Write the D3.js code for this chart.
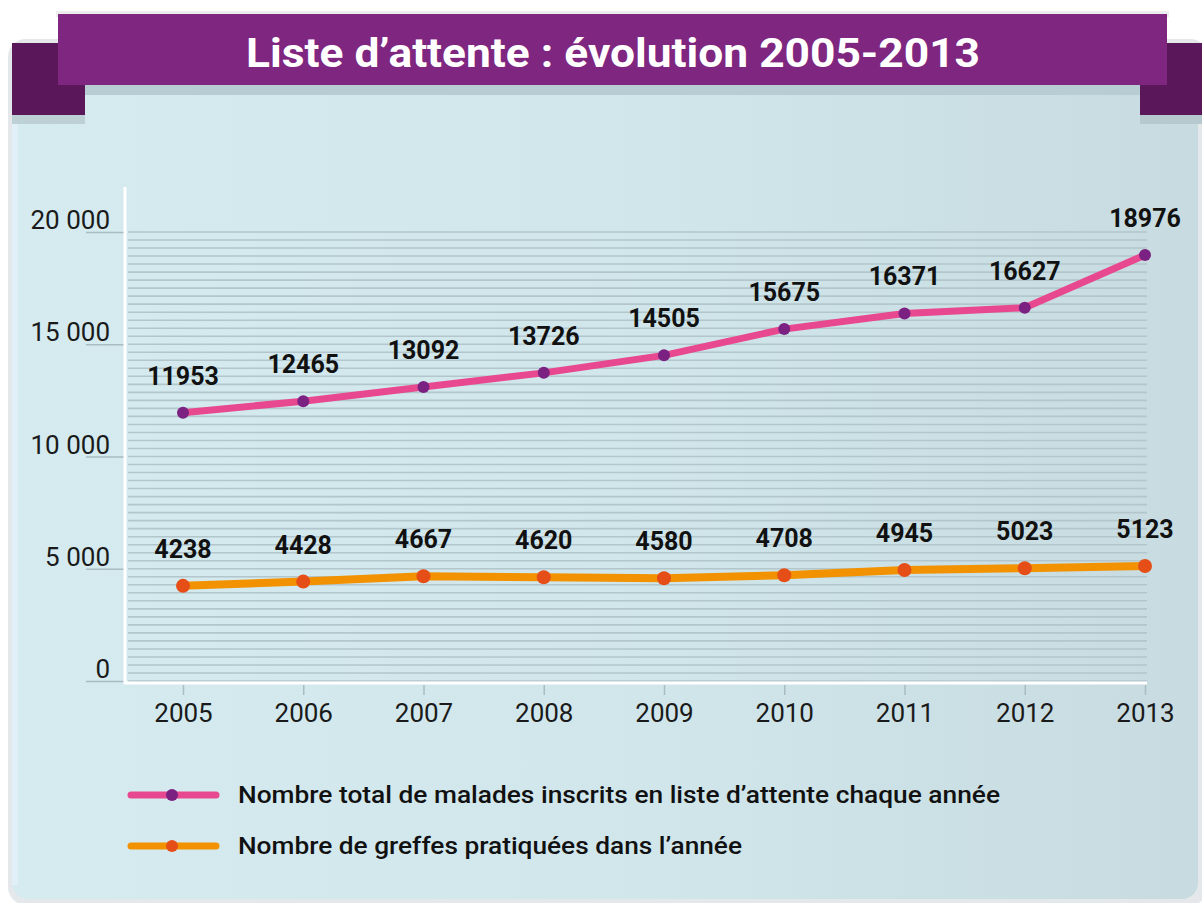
<!DOCTYPE html>
<meta charset="utf-8">
<head>
    <title>Liste d'attente</title>
    <style>
        body { margin: 0; background: #fff; }
    </style>
</head>

<script src="https://d3js.org/d3.v7.min.js"></script>

<div id="dataVis"></div>

<script>

    // data
    var years = ["2005", "2006", "2007", "2008", "2009", "2010", "2011", "2012", "2013"];
    var inscrits = [11953, 12465, 13092, 13726, 14505, 15675, 16371, 16627, 18976];
    var greffes = [4238, 4428, 4667, 4620, 4580, 4708, 4945, 5023, 5123];
    var yTicks = [0, 5000, 10000, 15000, 20000];
    var title = "Liste d\u2019attente : évolution 2005-2013";
    var legendLabels = [
        "Nombre total de malades inscrits en liste d\u2019attente chaque année",
        "Nombre de greffes pratiquées dans l\u2019année"
    ];

    var width = 1202, height = 903;

    var svg = d3.select("#dataVis")
        .append("svg")
        .attr("width", width)
        .attr("height", height);

    // background gradient of the panel
    var defs = svg.append("defs");
    var grad = defs.append("linearGradient").attr("id", "panelGrad")
        .attr("x1", "0%").attr("x2", "100%").attr("y1", "0%").attr("y2", "0%");
    grad.append("stop").attr("offset", "0%").attr("stop-color", "#d5ebf0");
    grad.append("stop").attr("offset", "55%").attr("stop-color", "#d0e6eb");
    grad.append("stop").attr("offset", "100%").attr("stop-color", "#c7dbe0");

    // frame + panel
    svg.append("rect").attr("x", 8).attr("y", 39).attr("width", 1200).attr("height", 866)
        .attr("rx", 18).attr("fill", "#e4e8ea");
    svg.append("rect").attr("x", 12).attr("y", 43).attr("width", 1186).attr("height", 856)
        .attr("rx", 16).attr("fill", "url(#panelGrad)");
    svg.append("rect").attr("x", 12).attr("y", 115).attr("width", 6).attr("height", 770)
        .attr("fill", "#e1f0f8");

    // banner shadows
    svg.append("rect").attr("x", 58).attr("y", 85).attr("width", 1109).attr("height", 10)
        .attr("fill", "#b7cdd3");
    svg.append("rect").attr("x", 12).attr("y", 115).attr("width", 73).attr("height", 9)
        .attr("fill", "#bcd0d5");
    svg.append("rect").attr("x", 1140).attr("y", 115).attr("width", 62).attr("height", 9)
        .attr("fill", "#b5c9ce");

    // dark purple side blocks
    svg.append("rect").attr("x", 12).attr("y", 43).attr("width", 73).attr("height", 72)
        .attr("fill", "#5a1759");
    svg.append("rect").attr("x", 1140).attr("y", 43).attr("width", 62).attr("height", 72)
        .attr("fill", "#5a1759");

    // title banner
    svg.append("rect").attr("x", 56).attr("y", 11).attr("width", 1113).attr("height", 6)
        .attr("fill", "#ededed");
    svg.append("rect").attr("x", 58).attr("y", 14).attr("width", 1109).attr("height", 71)
        .attr("fill", "#7f2680");
    svg.append("text")
        .attr("x", 613).attr("y", 67)
        .attr("text-anchor", "middle")
        .attr("fill", "#fff")
        .style("font-family", "Roboto, sans-serif")
        .style("font-weight", 700)
        .style("font-size", "41px")
        .attr("textLength", 734)
        .attr("lengthAdjust", "spacingAndGlyphs")
        .text(title);

    // scales
    var x = d3.scalePoint()
        .domain(years)
        .range([183, 1145]);

    var y = d3.scaleLinear()
        .domain([0, 20000])
        .range([681, 232]);

    var fr = d3.formatLocale({ decimal: ",", thousands: " ", grouping: [3], currency: ["", " €"] });
    var fmt = fr.format(",");

    // fine horizontal hatching
    var gridVals = d3.range(0, 57).map(function (i) { return i * 5000 / 14; });
    svg.append("g")
        .selectAll("line")
        .data(gridVals)
        .enter()
        .append("line")
        .attr("x1", 128).attr("x2", 1147)
        .attr("y1", function (d) { return y(d); })
        .attr("y2", function (d) { return y(d); })
        .attr("stroke", "#b2c6cb")
        .attr("stroke-width", 1.6);

    // Y axis
    var yAxis = svg.append("g")
        .attr("transform", "translate(125,0)")
        .call(d3.axisLeft(y).tickValues(yTicks).tickSize(39).tickFormat(fmt));
    yAxis.select(".domain").remove();
    yAxis.selectAll(".tick line").attr("stroke", "#a9bcc1").attr("stroke-width", 1.5);
    yAxis.selectAll(".tick text")
        .attr("x", -15)
        .attr("dy", "-0.13em")
        .attr("fill", "#1a1a1a")
        .style("font-family", "Roboto, sans-serif")
        .style("font-weight", 400)
        .style("font-size", "26px");

    // X axis
    var xAxis = svg.append("g")
        .attr("transform", "translate(0,685)")
        .call(d3.axisBottom(x).tickSize(10));
    xAxis.select(".domain").remove();
    xAxis.selectAll(".tick line").attr("stroke", "#a9bcc1").attr("stroke-width", 1.5);
    xAxis.selectAll(".tick text")
        .attr("y", 37)
        .attr("dy", 0)
        .attr("fill", "#1a1a1a")
        .style("font-family", "Roboto, sans-serif")
        .style("font-weight", 400)
        .style("font-size", "26px");

    // white axis lines
    svg.append("line").attr("x1", 125).attr("x2", 125).attr("y1", 187).attr("y2", 684)
        .attr("stroke", "#fff").attr("stroke-width", 3);
    svg.append("line").attr("x1", 124).attr("x2", 1147).attr("y1", 683).attr("y2", 683)
        .attr("stroke", "#fff").attr("stroke-width", 3);

    // series
    var series = [
        { values: inscrits, line: "#e8488f", dot: "#7b2182", w: 7, r: 6 },
        { values: greffes, line: "#f39200", dot: "#e64e17", w: 8, r: 7 }
    ];

    var line = d3.line()
        .x(function (d, i) { return x(years[i]); })
        .y(function (d) { return y(d); });

    series.forEach(function (s) {
        svg.append("path")
            .datum(s.values)
            .attr("fill", "none")
            .attr("stroke", s.line)
            .attr("stroke-width", s.w)
            .attr("stroke-linejoin", "round")
            .attr("d", line);

        svg.append("g")
            .selectAll("circle")
            .data(s.values)
            .enter()
            .append("circle")
            .attr("cx", function (d, i) { return x(years[i]); })
            .attr("cy", function (d) { return y(d); })
            .attr("r", s.r)
            .attr("fill", s.dot);

        svg.append("g")
            .selectAll("text")
            .data(s.values)
            .enter()
            .append("text")
            .attr("x", function (d, i) { return x(years[i]); })
            .attr("y", function (d) { return y(d) - 28; })
            .attr("text-anchor", "middle")
            .attr("fill", "#111")
            .style("font-family", "Roboto, sans-serif")
            .style("font-weight", 700)
            .style("font-size", "25px")
            .text(function (d) { return d; });
    });

    // legend
    var legend = svg.append("g");
    series.forEach(function (s, i) {
        var ly = 795 + i * 51;
        legend.append("line")
            .attr("x1", 131).attr("x2", 216).attr("y1", ly).attr("y2", ly)
            .attr("stroke", s.line).attr("stroke-width", 7).attr("stroke-linecap", "round");
        legend.append("circle")
            .attr("cx", 172).attr("cy", ly).attr("r", 6).attr("fill", s.dot);
        legend.append("text")
            .attr("x", 238).attr("y", ly + 8)
            .attr("fill", "#111")
            .style("font-family", "Roboto, sans-serif")
            .style("font-weight", 500)
            .style("font-size", "24px")
            .attr("textLength", i === 0 ? 762 : 504)
            .attr("lengthAdjust", "spacingAndGlyphs")
            .text(legendLabels[i]);
    });

</script>
